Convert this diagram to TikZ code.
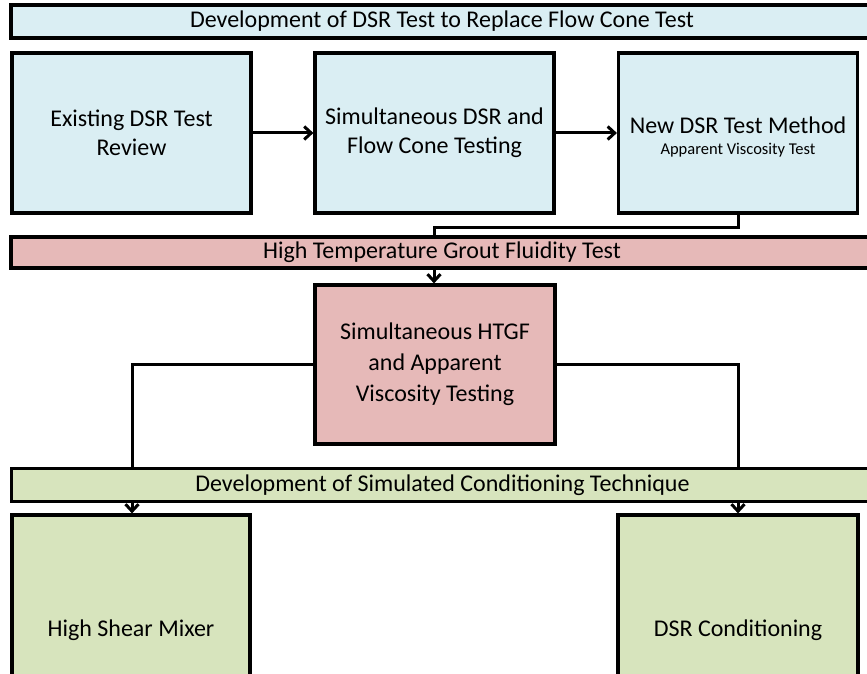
\documentclass[tikz,border=0pt]{standalone}
\usepackage{fontspec}
\setmainfont{Carlito}
\usetikzlibrary{arrows.meta}
\definecolor{cblue}{HTML}{DAEEF3}
\definecolor{cpink}{HTML}{E6B9B8}
\definecolor{cgreen}{HTML}{D7E4BD}
\begin{document}
\begin{tikzpicture}[x=1pt,y=-1pt,
  box/.style={draw=black,line width=3.2pt,rectangle,align=center,inner sep=0pt,
    font=\fontsize{24}{29}\selectfont},
  bar/.style={box,minimum width=862pt,minimum height=32pt},
  stepbox/.style={box,minimum width=239pt,minimum height=160pt},
  conn/.style={line width=3pt,-{Straight Barb[length=7pt,width=13pt,line width=3pt]}},
  plain/.style={line width=3pt}]
\useasboundingbox (0,0) rectangle (867,674);
\clip (0,0) rectangle (867,674);
\fill[white] (0,0) rectangle (867,674);
% top row
\node[bar,fill=cblue,minimum height=33pt] (topbar) at (442,21.5) {Development of DSR Test to Replace Flow Cone Test};
\node[stepbox,fill=cblue] (b1) at (131.5,133) {Existing DSR Test\\Review};
\node[stepbox,fill=cblue] (b2) at (434.5,133) {Simultaneous DSR and\\Flow Cone Testing};
\node[stepbox,fill=cblue] (b3) at (738,133) {};
\node[align=center,inner sep=0pt,font=\fontsize{24}{29}\selectfont] (b3t) at (738,137) {New DSR Test Method\\[-8pt]{\fontsize{16.5}{19}\selectfont Apparent Viscosity Test}};
\draw[conn] (b1.east) -- (b2.west);
\draw[conn] (b2.east) -- (b3.west);
% pink row
\node[stepbox,fill=cpink,minimum width=240pt,minimum height=159pt,
  font=\fontsize{24}{31}\selectfont] (pbox) at (435,364.5) {Simultaneous HTGF\\and Apparent\\Viscosity Testing};
\coordinate (k1) at (738,227);
\coordinate (k2) at (434,227);
\draw[conn] (b3.south) -- (k1) -- (k2) -- (k2 |- pbox.north);
\node[bar,fill=cpink,minimum height=31pt] (pinkbar) at (442,252.5) {High Temperature Grout Fluidity Test};
% green row
\node[stepbox,fill=cgreen,minimum width=238pt,minimum height=230pt] (g1) at (131,630) {High Shear Mixer};
\node[stepbox,fill=cgreen,minimum width=240pt,minimum height=230pt] (g2) at (738,630) {DSR Conditioning};
\coordinate (l1) at (132,364.5);
\coordinate (r1) at (738,364.5);
\draw[conn] (pbox.west) -- (l1) -- (l1 |- g1.north);
\draw[conn] (pbox.east) -- (r1) -- (r1 |- g2.north);
\node[bar,fill=cgreen,minimum height=33pt] (greenbar) at (442.5,485) {Development of Simulated Conditioning Technique};
\end{tikzpicture}
\end{document}
